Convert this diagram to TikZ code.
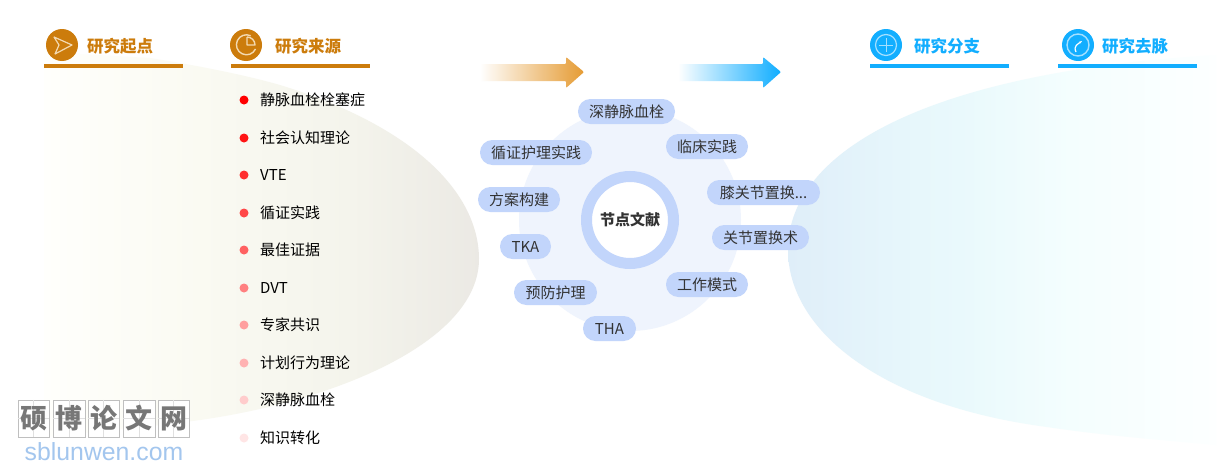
\documentclass[tikz,border=0pt]{standalone}
\usetikzlibrary{arrows.meta}
\usepackage{fontspec}
\setmainfont{Noto Sans CJK SC}
\newfontfamily\latinfont{Liberation Sans}
\definecolor{ocol}{HTML}{CC7C0C}
\definecolor{bcol}{HTML}{12AEFF}
\definecolor{pill}{HTML}{C2D5FB}
\definecolor{disc}{HTML}{EFF4FD}
\definecolor{txt}{HTML}{333333}
\definecolor{iconlo}{HTML}{F3D9B0}
\definecolor{iconlb}{HTML}{A5E0FF}
\definecolor{wmgray}{HTML}{777777}
\definecolor{wmblue}{HTML}{A3C6EE}
\definecolor{arrO}{HTML}{E59B33}
\definecolor{arrB}{HTML}{0FADFF}
\pgfdeclarehorizontalshading{lobeleft}{100bp}{
  rgb(0bp)=(1,1,0.988);
  rgb(25bp)=(1,1,0.988);
  rgb(42.9bp)=(0.98,0.98,0.949);
  rgb(60.1bp)=(0.957,0.957,0.925);
  rgb(75bp)=(0.922,0.914,0.894);
  rgb(100bp)=(0.922,0.914,0.894)}
\pgfdeclarehorizontalshading{loberight}{100bp}{
  rgb(0bp)=(0.875,0.933,0.976);
  rgb(25bp)=(0.875,0.933,0.976);
  rgb(38.1bp)=(0.902,0.965,0.984);
  rgb(45.1bp)=(0.914,0.976,0.988);
  rgb(58bp)=(0.957,0.996,0.996);
  rgb(75bp)=(0.992,1,1);
  rgb(100bp)=(0.992,1,1)}
\newcommand{\lowered}[1]{\raisebox{-1pt}{#1}}
\tikzset{
  pillnode/.style={fill=pill,rounded corners=12.4pt,minimum height=25pt,inner sep=0pt,text=txt,font=\fontsize{15}{15}\selectfont,anchor=center},
  headtext/.style={anchor=west,inner sep=0pt,font=\fontsize{16.5}{16.5}\selectfont\bfseries},
  itemtext/.style={anchor=west,inner sep=0pt,text=black,font=\fontsize{15}{15}\selectfont},
  dotmark/.style={circle,minimum size=9pt,inner sep=0pt},
  headline/.style={line width=3.5pt},
  wmbox/.style={draw=black!25,fill=white,minimum width=31.5pt,minimum height=37pt,inner sep=0pt},
  iconcirc/.style={circle,minimum size=32pt,inner sep=0pt},
}
\begin{document}
\begin{tikzpicture}[x=1pt,y=-1pt]
\useasboundingbox (0,0) rectangle (1226,471);
\fill[white] (0,0) rectangle (1226,471);
% background lobes
\shade[shading=lobeleft] (44,52) -- (150,58) .. controls (200,66) and (245,75) .. (280,85) .. controls (410,125) and (478,190) .. (479,258) .. controls (480,340) and (340,400) .. (200,420) .. controls (140,428) and (90,432) .. (44,437) -- cycle;
\shade[shading=loberight] (1216,55) .. controls (930,72) and (788,150) .. (788,250) .. controls (788,330) and (880,405) .. (1047,427) .. controls (1100,435) and (1160,440) .. (1216,445) -- cycle;
% headers
\draw[headline,ocol] (44,66.2) -- (183,66.2);
\draw[headline,ocol] (231,66.2) -- (370,66.2);
\draw[headline,bcol] (870,66.2) -- (1009,66.2);
\draw[headline,bcol] (1058,66.2) -- (1197,66.2);
\node[iconcirc,fill=ocol] (ic1) at (62,45) {};
\node[iconcirc,fill=ocol] (ic2) at (246,45) {};
\node[iconcirc,fill=bcol] (ic3) at (886,45) {};
\node[iconcirc,fill=bcol] (ic4) at (1078,45) {};
\draw[iconlo,line width=1.2pt,line join=round] (54,37) -- (72,45) -- (55,54) -- (59,45) -- cycle;
\draw[iconlo,line width=1.4pt] (255.5,49) arc[start angle=25,end angle=295,radius=10];
\draw[iconlo,line width=1.4pt,line join=round] (247,37) -- (247,45) -- (255,45) arc[start angle=0,end angle=-90,radius=8];
\draw[iconlb,line width=1.2pt] (ic3.center) circle[radius=10.5];
\draw[iconlb,line width=1pt] (879,45) -- (893,45) (886,38) -- (886,52);
\draw[iconlb,line width=1.4pt] (ic4.center) circle[radius=11];
\draw[white,line width=1.2pt,-{Stealth[length=3pt]}] (1076,52) .. controls (1073,46) and (1078,44) .. (1082,41);
\node[headtext,text=ocol] (h1) at (87,46) {研究起点};
\node[headtext,text=ocol] (h2) at (275,46) {研究来源};
\node[headtext,text=bcol] (h3) at (914,46) {研究分支};
\node[headtext,text=bcol] (h4) at (1102,46) {研究去脉};
% arrows
\shade[left color=white,right color=arrO,rounded corners=1pt] (480,64) -- (566,64) -- (566,57) -- (584,72) -- (566,88) -- (566,81) -- (480,81) -- cycle;
\shade[left color=white,right color=arrB,rounded corners=1pt] (678,64) -- (763,64) -- (763,57) -- (781,72) -- (763,88) -- (763,81) -- (678,81) -- cycle;
% list
\foreach \yy/\pc/\lab [count=\i] in {100/100/静脉血栓栓塞症,138/92/社会认知理论,175/82/VTE,213/72/循证实践,250/62/最佳证据,288/50/DVT,325/38/专家共识,363/30/计划行为理论,400/20/深静脉血栓,438/10/知识转化}{
  \node[dotmark,fill=red!\pc!white] (d\i) at (244,\yy) {};
  \node[itemtext] (t\i) at (260,\yy) {\lab};
}
% central cluster
\node[circle,fill=disc,minimum size=222pt,inner sep=0pt] (big) at (630,220) {};
\node[circle,draw=pill,line width=11pt,fill=white,minimum size=87pt,inner sep=0pt,text=txt,font=\fontsize{15}{15}\selectfont\bfseries] (core) at (630,220) {节点文献};
\node[pillnode,minimum width=97pt] (p1) at (626.5,111.5) {\lowered{深静脉血栓}};
\node[pillnode,minimum width=82pt] (p2) at (707,146.5) {\lowered{临床实践}};
\node[pillnode,minimum width=113pt] (p3) at (763.5,192.5) {\lowered{膝关节置换...}};
\node[pillnode,minimum width=97pt] (p4) at (760.5,237.5) {\lowered{关节置换术}};
\node[pillnode,minimum width=82pt] (p5) at (707,284.5) {\lowered{工作模式}};
\node[pillnode,minimum width=53pt] (p6) at (609.5,328.5) {\lowered{THA}};
\node[pillnode,minimum width=83pt] (p7) at (555.5,292.5) {\lowered{预防护理}};
\node[pillnode,minimum width=51pt] (p8) at (525.5,246.5) {\lowered{TKA}};
\node[pillnode,minimum width=82pt] (p9) at (519,199.5) {\lowered{方案构建}};
\node[pillnode,minimum width=112pt] (p10) at (536,152.5) {\lowered{循证护理实践}};
% watermark
\foreach \cx/\ch [count=\j] in {33.5/硕,69/博,103.5/论,139/文,173.5/网}{
  \node[wmbox] (w\j) at (\cx,418.5) {};
  \draw[black!12] (w\j.west) -- (w\j.east) (w\j.north) -- (w\j.south);
  \node[inner sep=0pt,text=wmgray,font=\fontsize{27}{27}\selectfont\bfseries] (wc\j) at (\cx,418.5) {\ch};
}
\node[inner sep=0pt,text=wmblue,font=\latinfont\fontsize{24.8}{24.8}\selectfont] (wmurl) at (104,452) {sblunwen.com};
\end{tikzpicture}
\end{document}
